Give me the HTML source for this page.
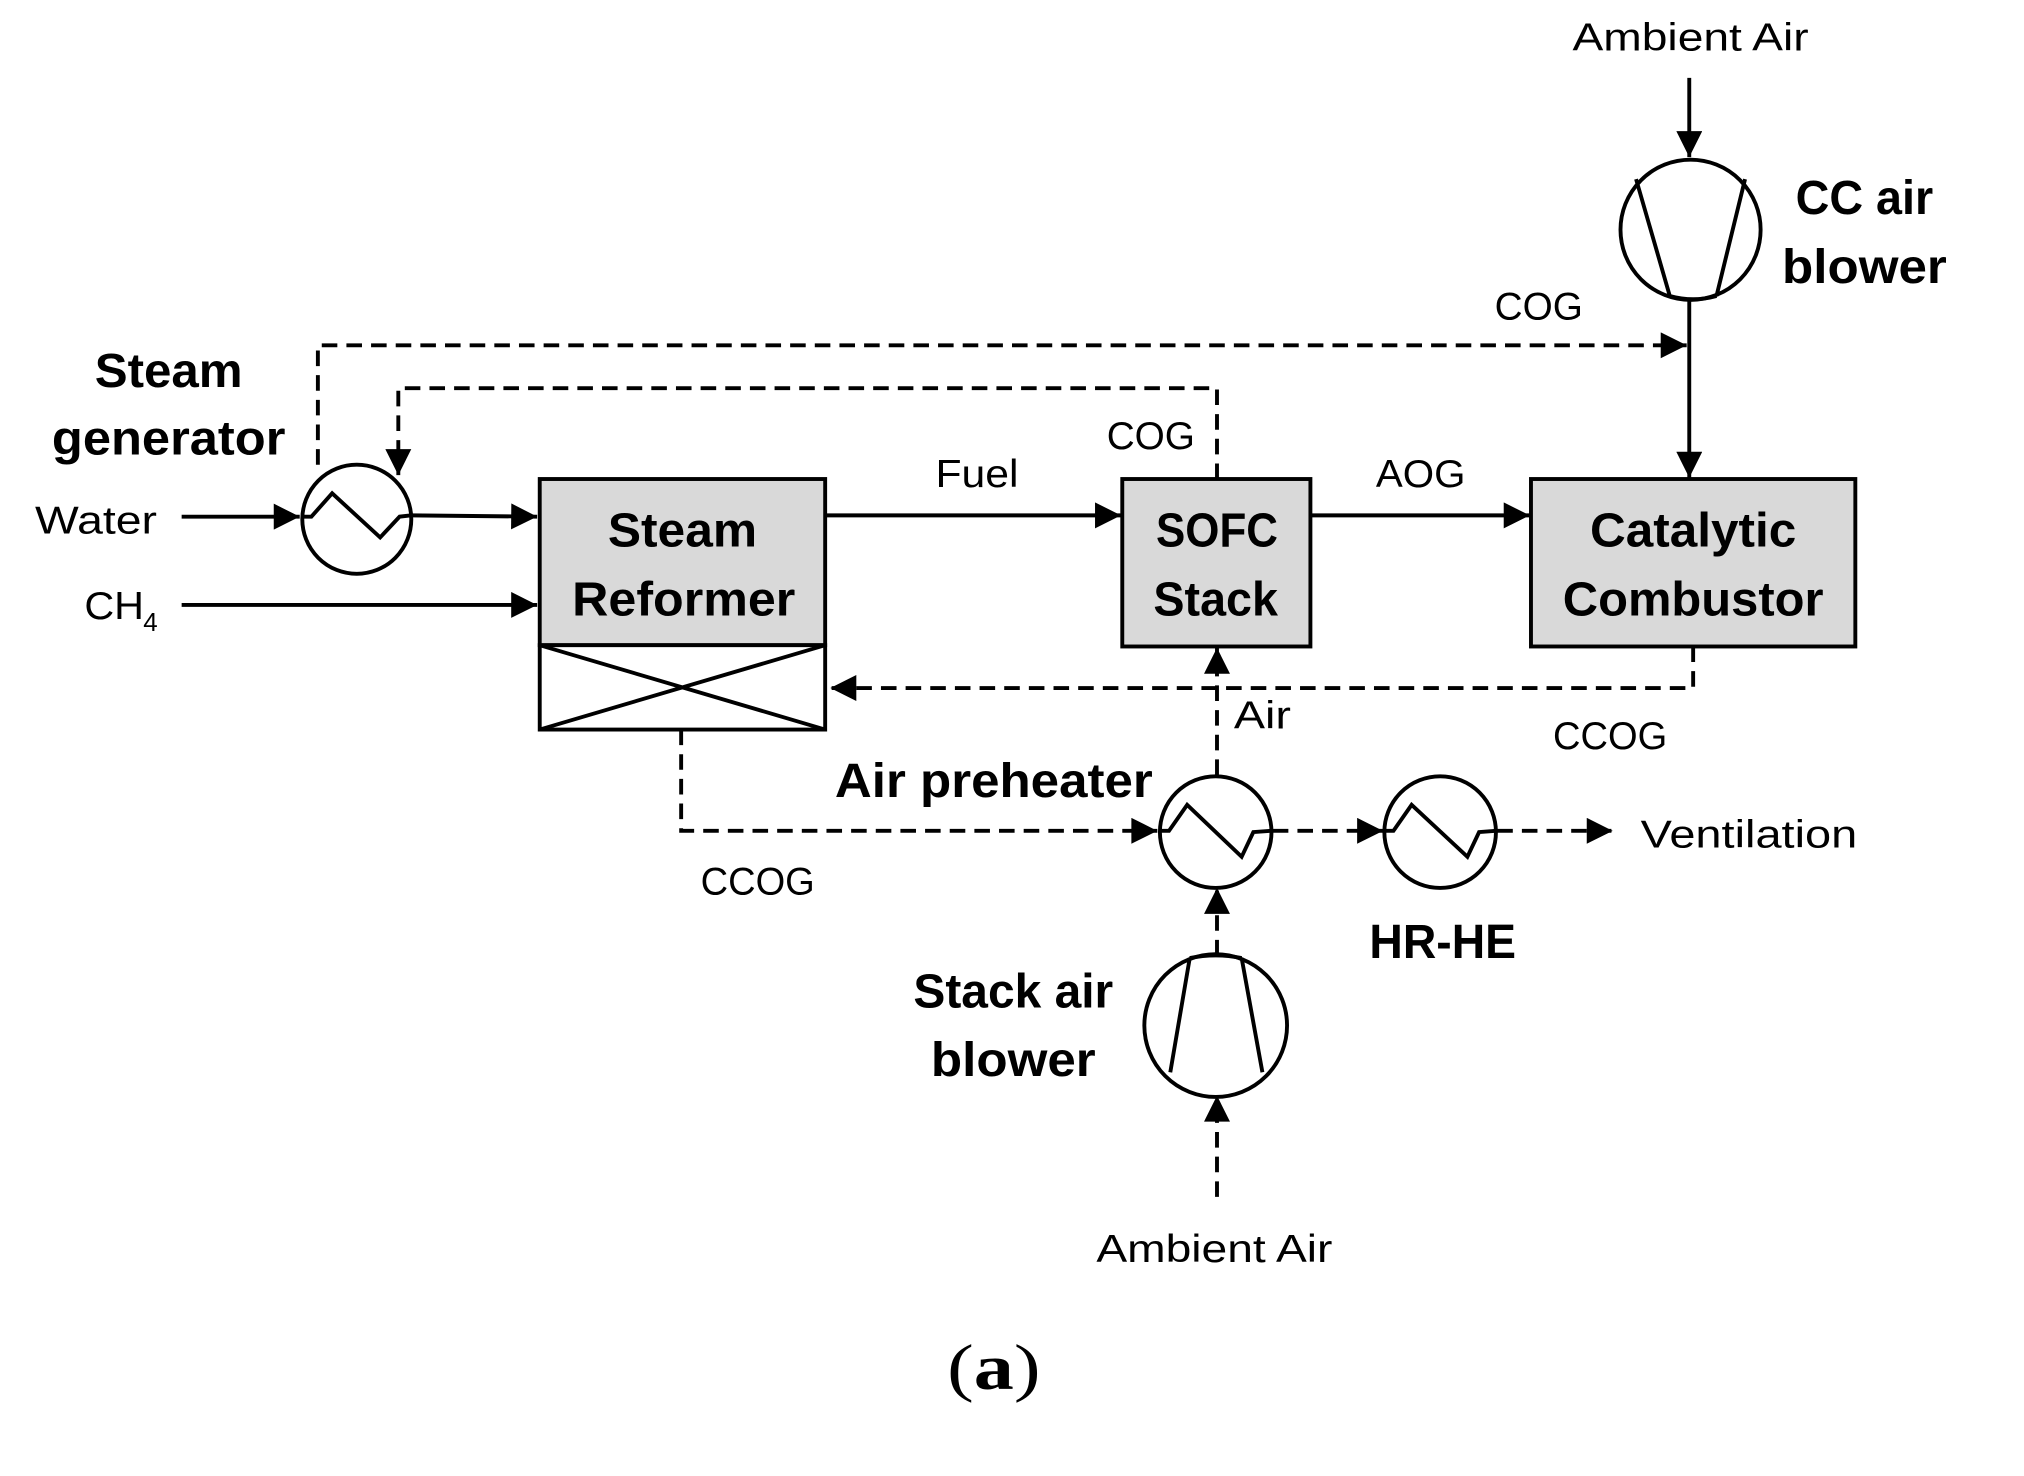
<!DOCTYPE html>
<html><head><style>html,body{margin:0;padding:0;background:#fff}svg{display:block}</style></head>
<body>
<svg width="2024" height="1476" viewBox="0 0 1560 1137" preserveAspectRatio="none" xmlns="http://www.w3.org/2000/svg">
<defs>
<marker id="a" viewBox="0 0 10 10" refX="10" refY="5" markerWidth="6" markerHeight="6" orient="auto" markerUnits="userSpaceOnUse">
<path d="M0,0 L10,5 L0,10 z" fill="#000"/></marker>
<marker id="b" viewBox="0 0 10 10" refX="10" refY="5" markerWidth="22" markerHeight="20" orient="auto" markerUnits="userSpaceOnUse">
<path d="M0,0 L10,5 L0,10 z" fill="#000"/></marker>
</defs>
<rect width="1560" height="1137" fill="#fff"/>
<g fill="none" stroke="#000" stroke-width="3">
<!-- boxes -->
<rect x="416" y="369" width="220" height="128" fill="#d9d9d9"/>
<rect x="416" y="497" width="220" height="65" fill="#fff"/>
<path d="M416,497 L636,562 M636,497 L416,562"/>
<rect x="865" y="369" width="145" height="129" fill="#d9d9d9"/>
<rect x="1180" y="369" width="250" height="129" fill="#d9d9d9"/>
<!-- steam generator HX -->
<circle cx="275" cy="400" r="42"/>
<path d="M233,398 L240,398 L256,380 L293,414 L308,398 L317,397"/>
<!-- solid arrows -->
<path d="M140,398 L231,398" marker-end="url(#b)"/>
<path d="M317,397 L414,398" marker-end="url(#b)"/>
<path d="M140,466 L414,466" marker-end="url(#b)"/>
<path d="M637,397 L864,397" marker-end="url(#b)"/>
<path d="M1011,397 L1179,397" marker-end="url(#b)"/>
<path d="M1302,60 L1302,121" marker-end="url(#b)"/>
<path d="M1302,232 L1302,368" marker-end="url(#b)"/>
<!-- CC air blower -->
<circle cx="1303" cy="177" r="54"/>
<path d="M1261,138 L1287,228 M1345,138 L1323,228 M1287,228 Q1305,233 1323,228"/>
<!-- dashed -->
<g stroke-dasharray="12,7">
<path d="M245,358 L245,266 L1300,266" marker-end="url(#b)"/>
<path d="M938,369 L938,299 L307,299 L307,366" marker-end="url(#b)"/>
<path d="M1305,498 L1305,530 L640,530" marker-end="url(#b)"/>
<path d="M938,597 L938,499" marker-end="url(#b)"/>
<path d="M525,562 L525,640 L892,640" marker-end="url(#b)"/>
<path d="M981,640 L1066,640" marker-end="url(#b)"/>
<path d="M1154,640 L1243,640" marker-end="url(#b)"/>
<path d="M938,736 L938,684" marker-end="url(#b)"/>
<path d="M938,922 L938,844" marker-end="url(#b)"/>
</g>
<!-- air preheater -->
<circle cx="937" cy="641" r="43"/>
<path d="M894,640 L901,640 L915,620 L957,660 L966,641 L980,640"/>
<!-- HR-HE -->
<circle cx="1110" cy="641" r="43"/>
<path d="M1067,640 L1074,640 L1088,620 L1131,660 L1140,641 L1153,640"/>
<!-- stack air blower -->
<circle cx="937" cy="790" r="55"/>
<path d="M902,826 L917,738 M957,738 L973,826 M917,738 Q937,734 957,738"/>
</g>
<g font-family="Liberation Sans, sans-serif" fill="#000" text-anchor="middle">
<g font-size="30">
<text x="1303" y="39" textLength="182" lengthAdjust="spacingAndGlyphs">Ambient Air</text>
<text x="936" y="972" textLength="182" lengthAdjust="spacingAndGlyphs">Ambient Air</text>
<text x="1186" y="246" textLength="68" lengthAdjust="spacingAndGlyphs">COG</text>
<text x="887" y="346" textLength="68" lengthAdjust="spacingAndGlyphs">COG</text>
<text x="74" y="411" textLength="94" lengthAdjust="spacingAndGlyphs">Water</text>
<text x="753" y="375" textLength="64" lengthAdjust="spacingAndGlyphs">Fuel</text>
<text x="1095" y="375" textLength="69" lengthAdjust="spacingAndGlyphs">AOG</text>
<text x="973" y="561" textLength="44" lengthAdjust="spacingAndGlyphs">Air</text>
<text x="1241" y="577" textLength="88" lengthAdjust="spacingAndGlyphs">CCOG</text>
<text x="584" y="689" textLength="88" lengthAdjust="spacingAndGlyphs">CCOG</text>
<text x="1348" y="653" textLength="167" lengthAdjust="spacingAndGlyphs">Ventilation</text>
<text x="88" y="477" textLength="46" lengthAdjust="spacingAndGlyphs">CH</text>
<text x="116" y="486" font-size="20">4</text>
</g>
<g font-size="37" font-weight="bold">
<text x="130" y="298" textLength="114" lengthAdjust="spacingAndGlyphs">Steam</text>
<text x="130" y="350" textLength="180" lengthAdjust="spacingAndGlyphs">generator</text>
<text x="526" y="421" textLength="115" lengthAdjust="spacingAndGlyphs">Steam</text>
<text x="527" y="474" textLength="172" lengthAdjust="spacingAndGlyphs">Reformer</text>
<text x="938" y="421" textLength="94" lengthAdjust="spacingAndGlyphs">SOFC</text>
<text x="937" y="474" textLength="96" lengthAdjust="spacingAndGlyphs">Stack</text>
<text x="1305" y="421" textLength="159" lengthAdjust="spacingAndGlyphs">Catalytic</text>
<text x="1305" y="474" textLength="201" lengthAdjust="spacingAndGlyphs">Combustor</text>
<text x="1437" y="165" textLength="106" lengthAdjust="spacingAndGlyphs">CC air</text>
<text x="1437" y="218" textLength="127" lengthAdjust="spacingAndGlyphs">blower</text>
<text x="766" y="614" textLength="245" lengthAdjust="spacingAndGlyphs">Air preheater</text>
<text x="1112" y="738" textLength="113" lengthAdjust="spacingAndGlyphs">HR-HE</text>
<text x="781" y="776" textLength="154" lengthAdjust="spacingAndGlyphs">Stack air</text>
<text x="781" y="829" textLength="127" lengthAdjust="spacingAndGlyphs">blower</text>
</g>
<text x="766" y="1070" font-family="Liberation Serif, serif" font-size="50" textLength="72" lengthAdjust="spacingAndGlyphs"><tspan font-weight="normal">(</tspan><tspan font-weight="bold">a</tspan><tspan font-weight="normal">)</tspan></text>
</g>
</svg>
</body></html>
